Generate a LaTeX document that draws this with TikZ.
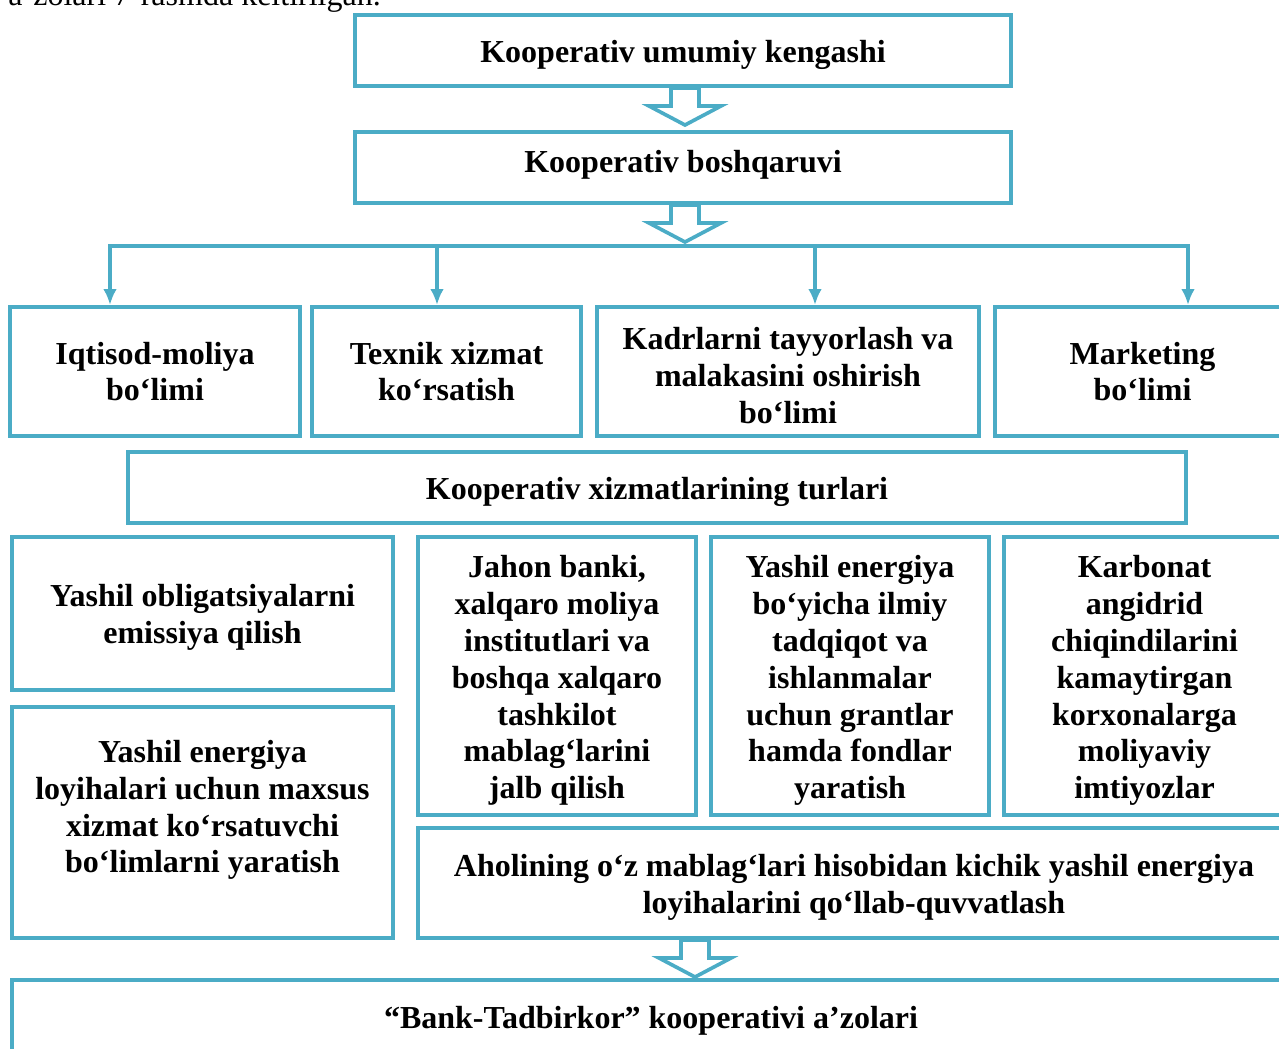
\documentclass[tikz,border=0pt]{standalone}
\usepackage{fontspec}
\setmainfont{Liberation Serif}
\usepackage{tikz}
\usetikzlibrary{arrows.meta}
\definecolor{aqua}{RGB}{75,172,198}
\newcommand{\pastga}[1][13.8pt]{\rule{0pt}{#1}}

\begin{document}
\begin{tikzpicture}[x=0.4375pt,y=-0.4375pt,
        box/.style={draw=aqua,line width=1.75pt,fill=white,align=center,inner sep=0pt,font=\bfseries\fontsize{14}{16.1}\selectfont},
        wh/.style 2 args={minimum width=#1*0.4375pt,minimum height=#2*0.4375pt},
        sink/.style={execute at begin node={\rule{0pt}{#1}}},
        sink/.default=13.8pt,
        lift/.style={execute at end node={\rule[-#1]{0pt}{#1}}},
        txt/.style={align=center,inner sep=0pt,font=\bfseries\fontsize{14}{16.1}\selectfont},
        link/.style={draw=aqua,line width=1.75pt},
        tip/.style={-{Latex[length=7pt,width=6pt]}},
        blockarrow/.pic={\draw[draw=aqua,line width=1.6pt,fill=white,line join=miter] (-14,0) -- (-14,18) -- (-36,18) -- (0,37) -- (36,18) -- (14,18) -- (14,0) -- cycle;}]
        \useasboundingbox (0,0) rectangle (1279,1048);
        \clip (0,0) rectangle (1279,1048);
        \node[anchor=base west,inner sep=0pt,font=\fontsize{14}{16.1}\selectfont] (oldingi) at (8,5) {a’zolari 7-rasmda keltirilgan.};
        \node[box,sink=13.2pt,wh={656}{71}] (kengash) at (683,50.5) {Kooperativ umumiy kengashi};
        \node[box,lift=5.7pt,wh={656}{71}] (boshqaruv) at (683,167.5) {Kooperativ boshqaruvi};
        \node[box,wh={290}{129}] (iqtisod) at (155,371.5) {Iqtisod-moliya\\bo‘limi};
        \node[box,wh={269}{129}] (texnik) at (446.5,371.5) {Texnik xizmat\\ko‘rsatish};
        \node[box,wh={382}{129}] (kadr) at (788,371.5) {\pastga[13.5pt]Kadrlarni tayyorlash va\\malakasini oshirish\\bo‘limi};
        \node[box,wh={295}{129}] (marketing) at (1142.5,371.5) {Marketing\\bo‘limi};
        \node[box,sink,wh={1058}{71}] (turlar) at (657,487.5) {Kooperativ xizmatlarining turlari};
        \node[box,wh={381}{153}] (obligatsiya) at (202.5,613.5) {\pastga[13.2pt]Yashil obligatsiyalarni\\emissiya qilish};
        \node[box,wh={381}{231}] (maxsus) at (202.5,822.5) {};
        \node[txt] (maxsusmatn) at (202.5,810) {Yashil energiya\\loyihalari uchun maxsus\\xizmat ko‘rsatuvchi\\bo‘limlarni yaratish};
        \node[box,wh={278}{278}] (jahon) at (557,676) {\pastga Jahon banki,\\xalqaro moliya\\institutlari va\\boshqa xalqaro\\tashkilot\\mablag‘larini\\jalb qilish};
        \node[box,wh={278}{278}] (grant) at (850,676) {\pastga Yashil energiya\\bo‘yicha ilmiy\\tadqiqot va\\ishlanmalar\\uchun grantlar\\hamda fondlar\\yaratish};
        \node[box,wh={281}{278}] (karbonat) at (1144.5,676) {\pastga Karbonat\\angidrid\\chiqindilarini\\kamaytirgan\\korxonalarga\\moliyaviy\\imtiyozlar};
        \node[box,wh={872}{110}] (aholi) at (854,883) {\pastga Aholining o‘z mablag‘lari hisobidan kichik yashil energiya\\loyihalarini qo‘llab-quvvatlash};
        \node[box,sink=12.2pt,wh={1278}{76}] (bank) at (651,1018) {“Bank-Tadbirkor” kooperativi a’zolari};
        \pic at (685,0 |- kengash.south) {blockarrow};
        \pic at (685,0 |- boshqaruv.south) {blockarrow};
        \pic at (695,0 |- aholi.south) {blockarrow};
        \coordinate (ayrim1) at (110,246);
        \coordinate (ayrim2) at (437,246);
        \coordinate (ayrim3) at (815,246);
        \coordinate (ayrim4) at (1188,246);
        \draw[link,{Latex[length=7pt,width=6pt]}-{Latex[length=7pt,width=6pt]}] (ayrim1 |- iqtisod.north) -- (ayrim1) -- (ayrim4) -- (ayrim4 |- marketing.north);
        \draw[link,tip] (ayrim2) -- (ayrim2 |- texnik.north);
        \draw[link,tip] (ayrim3) -- (ayrim3 |- kadr.north);
      \end{tikzpicture}
\end{document}
